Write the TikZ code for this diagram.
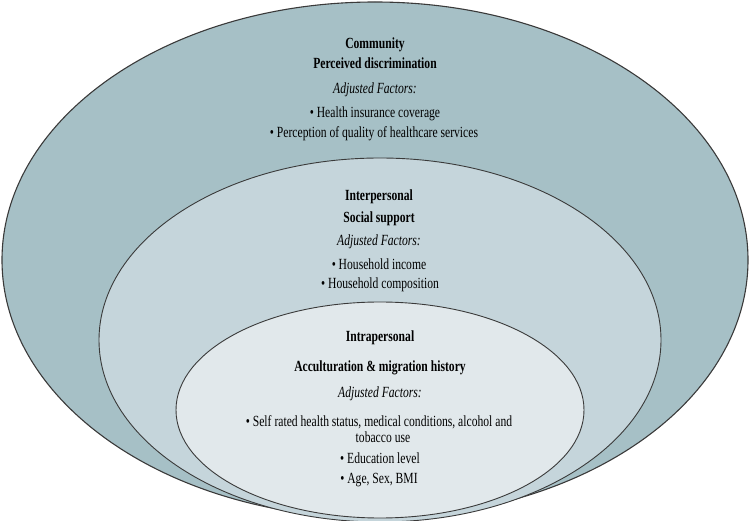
\documentclass[tikz,border=0pt]{standalone}
\usepackage{fontspec}
\setmainfont{Liberation Serif}[FakeStretch=0.75]
\definecolor{outerfill}{HTML}{A6C0C6}
\definecolor{midfill}{HTML}{C5D5DB}
\definecolor{innerfill}{HTML}{E1E8EB}
\definecolor{edge}{HTML}{3A3A3A}
\tikzset{
  ring/.style={draw=edge, line width=0.9pt},
  txt/.style={anchor=base, inner sep=0pt, font=\fontsize{15.5}{18}\selectfont, text=black},
  head/.style={txt, font=\fontsize{15.5}{18}\selectfont\bfseries},
  adj/.style={txt, font=\fontsize{15.5}{18}\selectfont\itshape},
}
\begin{document}
\begin{tikzpicture}[x=1pt, y=-1pt]
\useasboundingbox (0,0) rectangle (750,521);
% rings
\draw[ring, fill=outerfill, line width=1.1pt] (375,260) ellipse [x radius=373pt, y radius=258pt];
\draw[ring, fill=midfill] (380,340) ellipse [x radius=281pt, y radius=182pt];
\draw[ring, fill=innerfill] (380,410) ellipse [x radius=204pt, y radius=108pt];
% community
\node[head] (c1) at (375,49) {Community};
\node[head] (c2) at (375,69) {Perceived discrimination};
\node[adj]  (c3) at (375,94) {Adjusted Factors:};
\node[txt]  (c4) at (375,118) {• Health insurance coverage};
\node[txt]  (c5) at (374,138) {• Perception of quality of healthcare services};
% interpersonal
\node[head] (p1) at (379,201) {Interpersonal};
\node[head] (p2) at (379,223) {Social support};
\node[adj]  (p3) at (379,246) {Adjusted Factors:};
\node[txt]  (p4) at (379,270) {• Household income};
\node[txt]  (p5) at (380,289) {• Household composition};
% intrapersonal
\node[head] (i1) at (380,342) {Intrapersonal};
\node[head] (i2) at (380,372) {Acculturation \& migration history};
\node[adj]  (i3) at (380,398) {Adjusted Factors:};
\node[txt]  (i4) at (379,426) {• Self rated health status, medical conditions, alcohol and};
\node[txt]  (i5) at (383,442) {tobacco use};
\node[txt]  (i6) at (380,463) {• Education level};
\node[txt]  (i7) at (379,483) {• Age, Sex, BMI};
\end{tikzpicture}
\end{document}
